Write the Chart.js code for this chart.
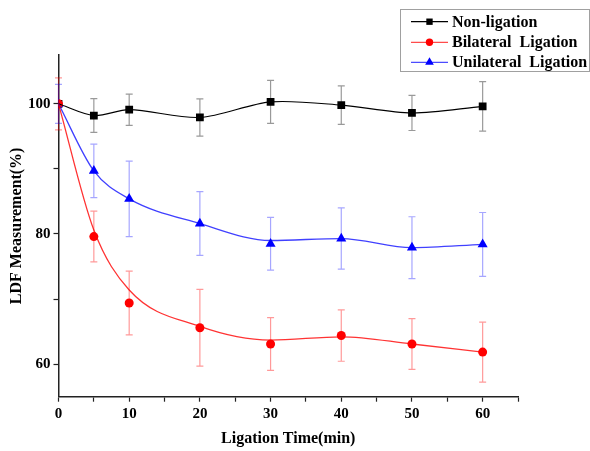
<!DOCTYPE html>
<html>
<head>
<meta charset="utf-8">
<script src="https://cdn.jsdelivr.net/npm/chart.js@4"></script>
<style>
  html, body { margin: 0; padding: 0; background: #fff; }
  #wrap { width: 590px; height: 451px; }
</style>
</head>
<body>
<div id="wrap"><canvas id="chart" width="590" height="451"></canvas></div>
<script>
// values
const times = [0, 5, 10, 20, 30, 40, 50, 60];

const nonLig = [100, 98.2, 99.1, 97.9, 100.3, 99.8, 98.6, 99.6];
const nonLigErr = [0, 2.6, 2.4, 2.85, 3.3, 2.95, 2.7, 3.8];

const bilat = [100, 79.6, 69.4, 65.6, 63.1, 64.4, 63.1, 61.85];
const bilatErr = [4.0, 3.9, 4.9, 5.9, 4.05, 3.95, 3.9, 4.6];
const bilatCurve = [100, 80.6, 71.4, 65.8, 63.7, 64.2, 63.1, 61.85];

const unilat = [100, 89.7, 85.4, 81.6, 78.5, 79.3, 77.9, 78.4];
const unilatErr = [3.0, 4.1, 5.8, 4.9, 4.05, 4.7, 4.75, 4.9];
const unilatCurve = [100, 89.7, 85.4, 81.6, 79.0, 79.3, 77.9, 78.4];

const seriesNames = ["Non-ligation", "Bilateral  Ligation", "Unilateral  Ligation"];
const xTicks = [0, 5, 10, 15, 20, 25, 30, 35, 40, 45, 50, 55, 60, 65];
const yTicks = [60, 70, 80, 90, 100];

const FONT = "'Liberation Serif', 'Times New Roman', serif";

function pts(ys) {
  return times.map((t, i) => ({ x: t, y: ys[i] }));
}

const series = [
  { values: nonLig, err: nonLigErr, color: "#000", errColor: "rgba(0,0,0,0.4)", style: "rect", r: 5 },
  { values: bilat, err: bilatErr, color: "#ff0000", errColor: "rgba(255,0,0,0.4)", style: "circle", r: 4.5 },
  { values: unilat, err: unilatErr, color: "#0000ff", errColor: "rgba(0,0,255,0.35)", style: "triangle", r: 5.8 },
];

const clipLeft = { left: 0, top: false, right: false, bottom: false };

const errorBars = {
  id: "errorBars",
  beforeDatasetsDraw(chart) {
    const ctx = chart.ctx;
    const xs = chart.scales.x, ys = chart.scales.y;
    ctx.save();
    ctx.lineWidth = 1.2;
    series.forEach((s) => {
      ctx.strokeStyle = s.errColor;
      times.forEach((t, i) => {
        if (!s.err[i]) return;
        const x = xs.getPixelForValue(t);
        const y1 = ys.getPixelForValue(s.values[i] + s.err[i]);
        const y2 = ys.getPixelForValue(s.values[i] - s.err[i]);
        ctx.beginPath();
        ctx.moveTo(x, y1); ctx.lineTo(x, y2);
        ctx.moveTo(x - 3.5, y1); ctx.lineTo(x + 3.5, y1);
        ctx.moveTo(x - 3.5, y2); ctx.lineTo(x + 3.5, y2);
        ctx.stroke();
      });
    });
    ctx.restore();
  },
};

function marker(ctx, style, x, y, r, color) {
  ctx.fillStyle = color;
  ctx.beginPath();
  if (style === "rect") {
    const h = r * Math.SQRT1_2;
    ctx.rect(x - h, y - h, 2 * h, 2 * h);
  } else if (style === "circle") {
    ctx.arc(x, y, r, 0, Math.PI * 2);
  } else {
    ctx.moveTo(x, y - r);
    ctx.lineTo(x + r * 0.866, y + r * 0.5);
    ctx.lineTo(x - r * 0.866, y + r * 0.5);
    ctx.closePath();
  }
  ctx.fill();
}

const legendBox = {
  id: "legendBox",
  afterDraw(chart) {
    const ctx = chart.ctx;
    ctx.save();
    ctx.strokeStyle = "#a0a0a0";
    ctx.lineWidth = 1;
    ctx.strokeRect(400.5, 9.5, 189, 62);
    const rows = [21.7, 42.3, 62.3];
    ctx.font = "bold 16px " + FONT;
    ctx.textBaseline = "middle";
    ctx.textAlign = "left";
    series.forEach((s, i) => {
      const y = rows[i];
      ctx.strokeStyle = s.color;
      ctx.globalAlpha = i === 0 ? 1 : 0.7;
      ctx.lineWidth = 1.2;
      ctx.beginPath();
      ctx.moveTo(411, y); ctx.lineTo(448, y);
      ctx.stroke();
      ctx.globalAlpha = 1;
      marker(ctx, s.style, 429.5, y, s.style === "rect" ? 4.5 : s.r - 0.8, s.color);
      ctx.fillStyle = "#000";
      ctx.fillText(seriesNames[i], 452, y + 1);
    });
    ctx.restore();
  },
};

new Chart(document.getElementById("chart"), {
  type: "line",
  data: {
    datasets: [
      {
        data: pts(bilatCurve), borderColor: "rgba(255,0,0,0.8)", borderWidth: 1.3,
        pointRadius: 0, cubicInterpolationMode: "monotone", clip: clipLeft,
      },
      {
        data: pts(unilatCurve), borderColor: "rgba(0,0,255,0.75)", borderWidth: 1.3,
        pointRadius: 0, cubicInterpolationMode: "monotone", clip: clipLeft,
      },
      {
        data: pts(nonLig), borderColor: "#000", borderWidth: 1.1,
        pointRadius: 0, tension: 0.3, clip: clipLeft,
      },
      {
        data: pts(bilat), showLine: false, pointStyle: "circle", pointRadius: 4.5,
        pointBackgroundColor: "#ff0000", pointBorderWidth: 0, clip: clipLeft,
      },
      {
        data: pts(unilat), showLine: false, pointStyle: "triangle", pointRadius: 5.8,
        pointBackgroundColor: "#0000ff", pointBorderWidth: 0, clip: clipLeft,
      },
      {
        data: pts(nonLig), showLine: false, pointStyle: "rect", pointRadius: 5.5,
        pointBackgroundColor: "#000", pointBorderWidth: 0, clip: clipLeft,
      },
    ],
  },
  options: {
    responsive: false,
    animation: false,
    events: [],
    layout: { padding: { top: 55, right: 72, left: 0, bottom: 0 } },
    plugins: { legend: { display: false }, tooltip: { enabled: false } },
    scales: {
      x: {
        type: "linear", min: 0, max: 65,
        afterBuildTicks: (sc) => { sc.ticks = xTicks.map((v) => ({ value: v })); },
        afterFit: (sc) => { sc.height = 54.3; },
        border: { color: "#222", width: 1.5 },
        grid: { drawOnChartArea: false, tickLength: 5, tickColor: "#222", tickWidth: 1.2 },
        ticks: {
          padding: 3, color: "#000", maxRotation: 0, autoSkip: false,
          font: { family: FONT, size: 15, weight: "bold" },
          callback: (v) => (v % 10 === 0 ? v : ""),
        },
        title: {
          display: true, text: "Ligation Time(min)", color: "#000",
          font: { family: FONT, size: 16, weight: "bold" }, padding: { top: 0, bottom: 3 },
        },
      },
      y: {
        type: "linear", min: 55, max: 107.5,
        afterBuildTicks: (sc) => { sc.ticks = yTicks.map((v) => ({ value: v })); },
        afterFit: (sc) => { sc.width = 58.5; },
        border: { color: "#222", width: 1.5 },
        grid: { drawOnChartArea: false, tickLength: 5, tickColor: "#222", tickWidth: 1.2 },
        ticks: {
          padding: 3, color: "#000", autoSkip: false,
          font: { family: FONT, size: 15, weight: "bold" },
          callback: (v) => (v % 20 === 0 ? v : ""),
        },
        title: {
          display: true, text: "LDF Measurement(%)", color: "#000",
          font: { family: FONT, size: 16, weight: "bold" }, padding: { top: 7, bottom: 0 },
        },
      },
    },
  },
  plugins: [errorBars, legendBox],
});
</script>
</body>
</html>
